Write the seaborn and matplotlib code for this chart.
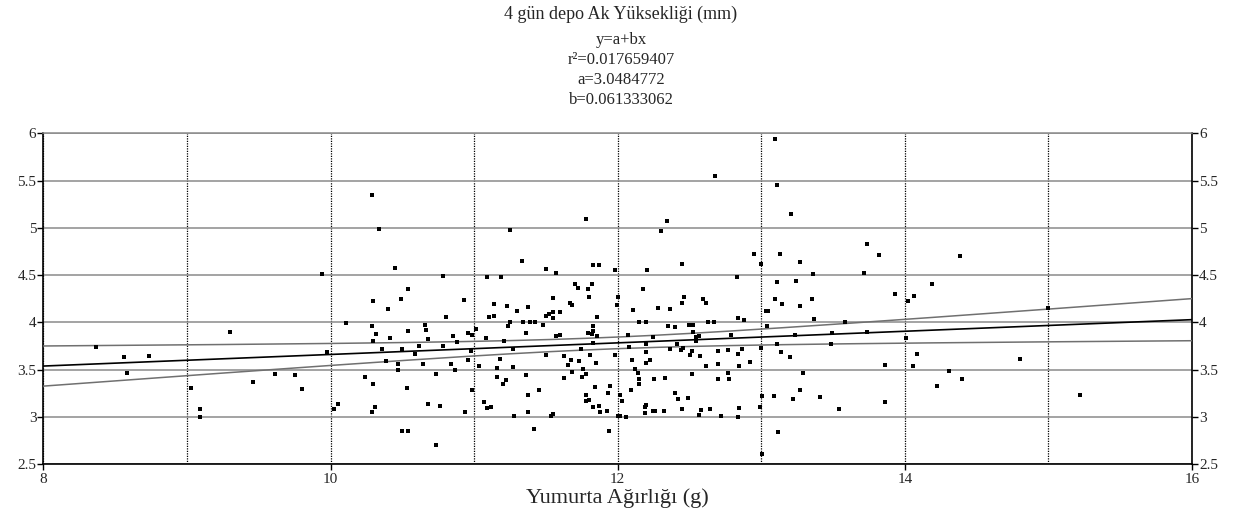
import numpy as np
import pandas as pd
import matplotlib
matplotlib.use("Agg")
import matplotlib.pyplot as plt
import seaborn as sns
from matplotlib.ticker import MultipleLocator

# ---- data ----
egg_weight = [
    8.364, 8.559, 8.737, 8.582, 9.298, 9.031, 9.094, 9.094, 9.458, 9.613, 9.750, 9.798, 9.940, 9.977, 10.026, 10.049,
    10.290, 10.341, 10.447, 10.781, 10.540, 10.297, 10.489, 10.932, 10.397, 10.802, 10.111, 10.290, 10.660, 10.667,
    10.540, 10.320, 10.413, 10.297, 10.681, 10.853, 10.881, 10.957, 10.982, 11.015, 10.617, 10.781, 10.359, 10.496,
    10.591, 10.980, 10.389, 10.468, 10.468, 10.646, 10.839, 10.867, 10.959, 11.034, 10.732, 10.241, 10.297, 10.533,
    10.987, 10.681, 10.760, 10.311, 10.290, 10.939, 10.496, 10.540, 10.737,
    11.780, 11.251, 11.330, 11.502, 11.573, 11.828, 11.870, 11.979, 11.087, 11.187, 11.703, 11.722, 11.819, 11.794,
    11.550, 11.801, 12.000, 11.997, 11.138, 11.230, 11.372, 11.300, 11.671, 11.680, 11.550, 11.601, 11.522, 11.499,
    11.550, 11.107, 11.138, 11.858, 11.251, 11.337, 11.388, 11.423, 11.237, 11.478, 11.828, 11.828, 11.358, 11.794,
    11.819, 11.858, 11.573, 11.601, 11.082, 11.210, 11.828, 11.272, 11.743, 11.502, 11.807, 11.979, 11.629, 11.182,
    11.673, 11.729, 11.657, 11.850, 11.272, 11.159, 11.757, 11.680, 11.358, 11.780, 11.159, 11.750, 11.629, 11.223,
    11.203, 11.844, 11.949, 11.453, 11.930, 11.372, 11.777, 11.066, 11.777, 11.803, 11.870, 11.089, 11.117, 11.828,
    11.877, 11.923, 11.372, 11.281, 11.550, 11.536, 12.002, 11.414, 11.942,
    12.676, 12.341, 12.299, 12.948, 12.449, 12.996, 12.206, 12.834, 12.178, 12.462, 12.597, 12.614, 12.449, 12.106,
    12.278, 12.363, 12.841, 12.883, 12.150, 12.198, 12.627, 12.669, 12.349, 12.398, 12.498, 12.526, 12.526, 12.544,
    12.565, 12.542, 12.069, 12.247, 12.790, 12.412, 12.198, 12.076, 12.458, 12.444, 12.365, 12.514, 12.697, 12.769,
    12.869, 12.998, 12.198, 12.500, 12.570, 12.841, 12.099, 12.226, 12.198, 12.618, 12.697, 12.848, 12.920, 12.120,
    12.141, 12.518, 12.769, 12.150, 12.250, 12.327, 12.697, 12.776, 12.150, 12.092, 12.398, 12.419, 12.493, 12.018,
    12.028, 13.003, 12.197, 12.190, 12.449, 12.579, 12.646, 12.848, 12.989, 12.190, 12.247, 12.259, 12.320, 12.563,
    12.018, 12.056, 12.718, 12.841, 13.003,
    13.098, 13.112, 13.210, 13.738, 13.817, 13.133, 13.267, 13.360, 13.717, 13.112, 13.239, 13.930, 13.098, 13.353,
    14.023, 13.147, 13.267, 13.031, 13.047, 13.367, 13.580, 13.040, 13.232, 13.490, 13.738, 14.009, 13.112, 13.483,
    13.140, 13.198, 13.858, 13.288, 13.089, 13.267, 13.218, 13.411, 13.858, 13.538, 13.119,
    14.386, 14.187, 14.060, 14.998, 14.087, 14.053, 14.799, 14.308, 14.400, 14.222, 15.221,
]
albumen_height = [
    3.744, 3.635, 3.646, 3.469, 3.896, 3.308, 3.089, 3.001, 3.371, 3.459, 3.448, 3.297, 4.513, 3.688, 3.089, 3.142,
    5.345, 4.992, 4.576, 4.488, 4.357, 4.227, 4.248, 4.238, 4.140, 4.061, 3.995, 3.963, 3.974, 3.921,
    3.910, 3.875, 3.839, 3.808, 3.822, 3.854, 3.797, 3.886, 3.865, 3.931, 3.755, 3.755, 3.723, 3.723,
    3.667, 3.699, 3.593, 3.558, 3.501, 3.558, 3.558, 3.501, 3.600, 3.543, 3.459, 3.427, 3.350, 3.304,
    3.283, 3.142, 3.121, 3.110, 3.057, 3.057, 2.856, 2.856, 2.705,
    5.091, 4.975, 4.654, 4.566, 4.520, 4.608, 4.608, 4.555, 4.478, 4.478, 4.410, 4.368, 4.410, 4.357,
    4.259, 4.270, 4.270, 4.182, 4.192, 4.171, 4.161, 4.118, 4.206, 4.182, 4.108, 4.108, 4.093, 4.072,
    4.051, 4.061, 4.072, 4.061, 4.008, 4.008, 4.008, 4.008, 3.963, 3.974, 3.963, 3.910, 3.886, 3.886,
    3.875, 3.854, 3.854, 3.865, 3.833, 3.801, 3.786, 3.723, 3.723, 3.656, 3.656, 3.653, 3.646, 3.614,
    3.604, 3.590, 3.548, 3.569, 3.526, 3.516, 3.505, 3.480, 3.448, 3.459, 3.427, 3.427, 3.416, 3.392,
    3.350, 3.318, 3.329, 3.283, 3.252, 3.231, 3.231, 3.163, 3.174, 3.184, 3.121, 3.100, 3.110, 3.110,
    3.054, 3.065, 3.054, 3.012, 3.033, 3.012, 3.012, 2.877, 2.856,
    5.552, 5.070, 4.970, 4.727, 4.618, 4.618, 4.555, 4.478, 4.357, 4.270, 4.252, 4.203, 4.203, 4.129,
    4.150, 4.140, 4.051, 4.030, 4.008, 4.008, 4.008, 4.008, 3.963, 3.952, 3.974, 3.974, 3.900, 3.847,
    3.854, 3.801, 3.865, 3.844, 3.865, 3.776, 3.776, 3.744, 3.734, 3.712, 3.723, 3.702, 3.702, 3.712,
    3.723, 3.734, 3.688, 3.656, 3.646, 3.667, 3.600, 3.604, 3.569, 3.537, 3.558, 3.537, 3.579, 3.505,
    3.469, 3.459, 3.469, 3.406, 3.403, 3.416, 3.403, 3.406, 3.350, 3.286, 3.252, 3.195, 3.205, 3.234,
    3.174, 3.220, 3.131, 3.110, 3.086, 3.075, 3.086, 3.100, 3.110, 3.043, 3.065, 3.065, 3.065, 3.022,
    3.012, 2.998, 3.012, 2.998, 2.607,
    5.943, 5.453, 5.147, 4.827, 4.717, 4.727, 4.640, 4.509, 4.520, 4.431, 4.442, 4.301, 4.252, 4.252,
    4.227, 4.192, 4.171, 4.118, 4.118, 4.040, 4.008, 3.963, 3.865, 3.886, 3.900, 3.833, 3.776, 3.776,
    3.688, 3.635, 3.548, 3.469, 3.220, 3.286, 3.195, 3.209, 3.163, 3.089, 2.846,
    4.706, 4.410, 4.280, 4.157, 3.670, 3.537, 3.614, 3.491, 3.406, 3.329, 3.231,
]

title = "4 gün depo Ak Yüksekliği (mm)"
subtitle_lines = ["y=a+bx", "r²=0.017659407", "a=3.0484772", "b=0.061333062"]
coef_a = 3.0484772
coef_b = 0.061333062
x_label = "Yumurta Ağırlığı (g)"

df = pd.DataFrame({"x": egg_weight, "y": albumen_height})

sns.set_theme(style="white")
plt.rcParams["font.family"] = ["Liberation Serif", "DejaVu Serif"]

fig = plt.figure(figsize=(12.42, 5.19), dpi=100)
ax = fig.add_axes([0.0349, 0.1054, 0.9249, 0.6376])

# regression line and 95% confidence band for the mean
xs = np.linspace(8, 16, 200)
x = df["x"].to_numpy()
y = df["y"].to_numpy()
n = len(x)
resid = y - (coef_a + coef_b * x)
s = np.sqrt(np.sum(resid ** 2) / (n - 2))
xbar = x.mean()
sxx = np.sum((x - xbar) ** 2)
fit = coef_a + coef_b * xs
half = 1.968 * s * np.sqrt(1.0 / n + (xs - xbar) ** 2 / sxx)
sns.lineplot(x=xs, y=fit + half, ax=ax, color="#707070", lw=1.1, zorder=3)
sns.lineplot(x=xs, y=fit - half, ax=ax, color="#707070", lw=1.1, zorder=3)
sns.lineplot(x=xs, y=fit, ax=ax, color="black", lw=1.2, zorder=3)

sns.scatterplot(data=df, x="x", y="y", ax=ax, marker="s", s=11, color="black",
                linewidth=0, zorder=4)

ax.set_xlim(8, 16)
ax.set_ylim(2.5, 6)
ax.xaxis.set_major_locator(MultipleLocator(2))
ax.xaxis.set_minor_locator(MultipleLocator(1))
ax.yaxis.set_major_locator(MultipleLocator(0.5))
ax.grid(True, axis="x", which="both", color="black", linestyle=(0, (1, 1)), lw=0.9, zorder=1)
ax.grid(True, axis="y", which="major", color="#8a8a8a", linestyle="-", lw=1.1, zorder=1)
ax.set_axisbelow(True)

ax.tick_params(axis="x", which="major", direction="out", length=4, width=1, color="black",
               labelsize=11, bottom=True, pad=2)
ax.tick_params(axis="x", which="minor", length=0)
ax.tick_params(axis="y", direction="out", length=4, width=1, color="black", labelsize=11,
               left=True, right=True, labelleft=True, labelright=True, pad=1)
ax.set_yticks([2.5, 3, 3.5, 4, 4.5, 5, 5.5, 6])
ax.set_yticklabels(["2.5", "3", "3.5", "4", "4.5", "5", "5.5", "6"])
ax.set_xticks([8, 10, 12, 14, 16])
ax.set_xticklabels(["8", "10", "12", "14", "16"])

for side in ["left", "right", "bottom"]:
    ax.spines[side].set_color("black")
    ax.spines[side].set_linewidth(1.2)
ax.spines["top"].set_color("#8a8a8a")
ax.spines["top"].set_linewidth(1.1)

ax.set_xlabel(x_label, fontsize=16, labelpad=2)
ax.set_ylabel("")

fig.text(0.5, 0.972, title, ha="center", va="center", fontsize=13)
ys = [0.922, 0.884, 0.845, 0.808]
for t, yy in zip(subtitle_lines, ys):
    fig.text(0.5, yy, t, ha="center", va="center", fontsize=12)

fig.savefig("out.png", dpi=100)
